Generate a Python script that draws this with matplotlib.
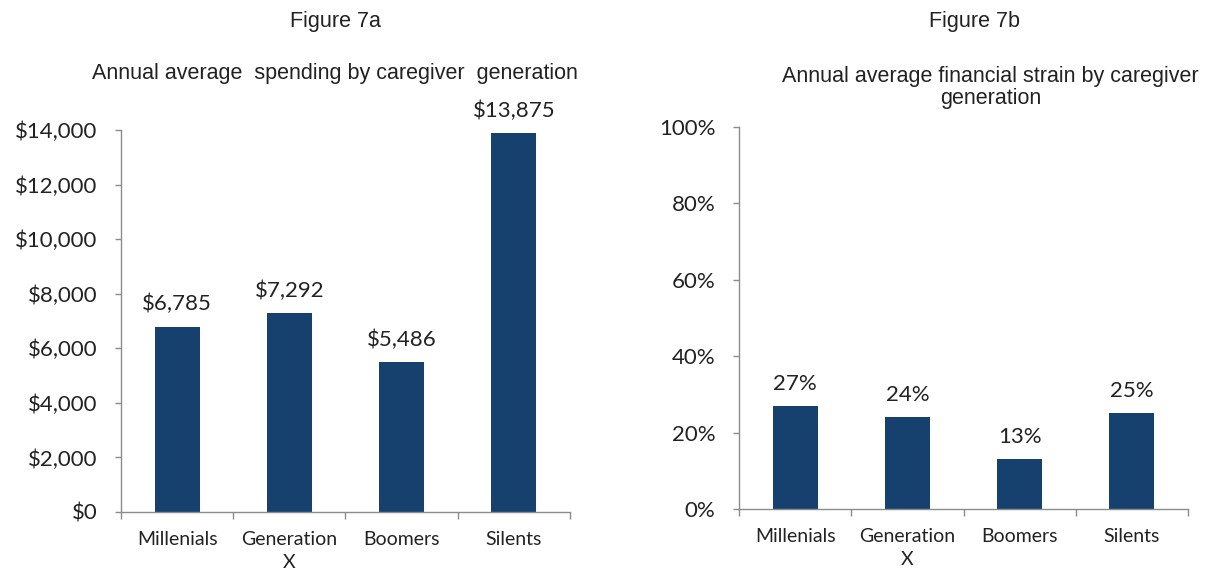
import numpy as np
import matplotlib.pyplot as plt
from matplotlib.ticker import FuncFormatter, FixedLocator

plt.rcParams["font.family"] = ["Liberation Sans", "DejaVu Sans"]

generations = ["Millenials", "Generation\nX", "Boomers", "Silents"]
spending = [6785, 7292, 5486, 13875]
strain = [27, 24, 13, 25]

bar_color = "#16416E"
axis_gray = "#8c8c8c"
text_color = "#222222"
label_font = ["Lato", "DejaVu Sans"]

fig = plt.figure(figsize=(12.05, 5.73), dpi=100, facecolor="white")
ax_a = fig.add_axes([0.1004, 0.1065, 0.3726, 0.6667])
ax_b = fig.add_axes([0.6133, 0.1117, 0.3726, 0.6667])


def style_axis(ax):
    x = np.arange(len(generations))
    ax.set_xlim(-0.5, len(generations) - 0.5)
    ax.set_xticks(x)
    ax.set_xticklabels(generations, fontsize=14, color=text_color, linespacing=1.4,
                       family=label_font)
    ax.tick_params(axis="x", which="major", length=0, pad=14)
    ax.xaxis.set_minor_locator(FixedLocator(np.arange(-0.5, len(generations), 1.0)))
    ax.tick_params(axis="x", which="minor", length=5, color=axis_gray, width=1)
    ax.tick_params(axis="y", length=4, color=axis_gray, width=1, labelsize=16,
                   labelcolor=text_color, pad=13)
    for lbl in ax.get_yticklabels():
        lbl.set_family(label_font)
    for side in ["top", "right"]:
        ax.spines[side].set_visible(False)
    for side in ["left", "bottom"]:
        ax.spines[side].set_color(axis_gray)
        ax.spines[side].set_linewidth(1)
    return x


# --- Figure 7a ---
ax_a.set_ylim(0, 14000)
ax_a.set_yticks(np.arange(0, 14001, 2000))
ax_a.yaxis.set_major_formatter(FuncFormatter(lambda v, p: f"${v:,.0f}"))
x = style_axis(ax_a)
ax_a.bar(x, spending, width=0.4, color=bar_color, zorder=2)
for xi, v in zip(x, spending):
    ax_a.text(xi, v + 450, f"${v:,}", ha="center", va="bottom", fontsize=16,
              color=text_color, family=label_font)

fig.text(0.278, 0.962, "Figure 7a", ha="center", va="center", fontsize=15.5, color=text_color)
fig.text(0.278, 0.871, "Annual average  spending by caregiver  generation", ha="center",
         va="center", fontsize=15.5, color=text_color)

# --- Figure 7b ---
ax_b.set_ylim(0, 100)
ax_b.set_yticks(np.arange(0, 101, 20))
ax_b.yaxis.set_major_formatter(FuncFormatter(lambda v, p: f"{v:.0f}%"))
x = style_axis(ax_b)
ax_b.bar(x, strain, width=0.4, color=bar_color, zorder=2)
for xi, v in zip(x, strain):
    ax_b.text(xi, v + 3.2, f"{v}%", ha="center", va="bottom", fontsize=16,
              color=text_color, family=label_font)

fig.text(0.809, 0.962, "Figure 7b", ha="center", va="center", fontsize=15.5, color=text_color)
fig.text(0.822, 0.847, "Annual average financial strain by caregiver\ngeneration", ha="center",
         va="center", fontsize=15.5, color=text_color, linespacing=1.08)

fig.savefig("out.png", dpi=100, facecolor="white")
